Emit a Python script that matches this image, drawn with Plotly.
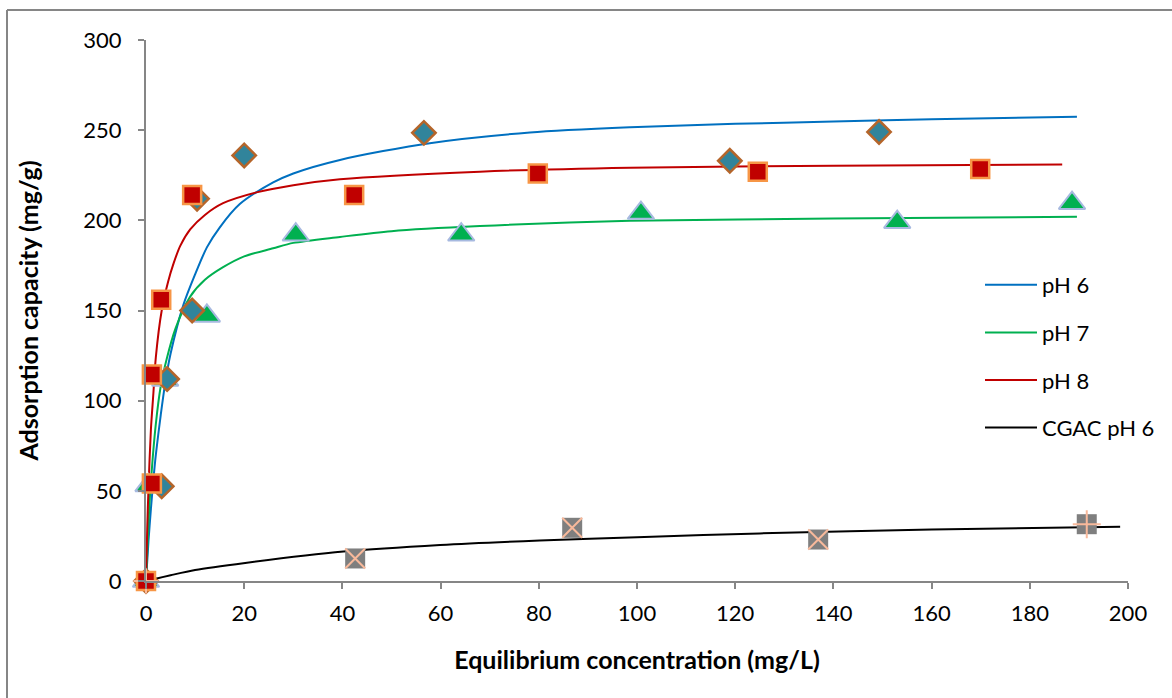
import plotly.graph_objects as go

# ---- measured data points ----
ph6_x = [0, 3.2, 4.3, 9.4, 10.4, 20, 56.6, 118.9, 149.3]
ph6_y = [0, 52.5, 112, 150, 212, 236, 248.5, 233, 249]

ph7_x = [0, 0.5, 3.9, 12.4, 30.5, 64.2, 100.8, 153, 188.6]
ph7_y = [0, 53, 111.5, 147, 192, 192, 204, 199, 209.5]

ph8_x = [0, 1.2, 1.2, 3.1, 9.4, 42.4, 79.8, 124.6, 169.9]
ph8_y = [0, 54, 114.5, 156, 214, 214, 226, 227, 228.5]

cgac_x = [42.6, 86.8, 136.9, 191.6]
cgac_y = [12.5, 29.5, 23, 31.5]
cgac_sym = ["x-thin", "x-thin", "x-thin", "cross-thin"]
origin_x = [0]
origin_y = [0]

# ---- fitted curves ----
fit6_x = [0, 0.5, 1, 1.5, 2, 3, 3.9, 5, 7.6, 10, 12.4, 15, 19.1, 25.9, 30, 39.5, 57.8, 78.2, 98.6, 120, 140, 160, 189.6]
fit6_y = [0, 22, 40, 56, 70, 92, 109.6, 126, 153, 170, 185, 196, 209, 221, 226, 233.5, 242.8, 248.7, 251.6, 253.5, 254.8, 256, 257.5]

fit7_x = [0, 0.5, 1, 2, 3, 4.2, 6, 9, 12, 15.7, 20, 25.9, 30, 39.5, 50, 68, 98.6, 140, 189.6]
fit7_y = [0, 32, 55, 87, 108, 123, 140, 157.7, 167, 174, 180, 184.5, 187.5, 190.8, 194, 196.8, 199.7, 201, 202]

fit8_x = [0, 0.25, 0.5, 1, 1.5, 2, 3.2, 4.5, 5.6, 7, 9, 12, 15.7, 22.5, 30, 39.5, 68, 98.6, 140, 186.6]
fit8_y = [0, 29, 51, 84, 104, 124, 150, 166, 176, 186, 195, 203, 209.5, 215.5, 219.5, 222.8, 227, 229.2, 230.3, 231]

fitc_x = [0, 5, 10, 20.2, 40.2, 59.9, 80.2, 100, 125, 160, 198.4]
fitc_y = [0, 3.2, 6.1, 10, 16.3, 20, 22.5, 24.3, 26.4, 28.5, 30.1]

x_ticks = [0, 20, 40, 60, 80, 100, 120, 140, 160, 180, 200]
y_ticks = [0, 50, 100, 150, 200, 250, 300]

FONT = "Lato"
fig = go.Figure()

# fit lines (legend entries)
for i, (xs, ys, col, name) in enumerate([
    (fit6_x, fit6_y, "#0070C0", "pH 6"),
    (fit7_x, fit7_y, "#00B050", "pH 7"),
    (fit8_x, fit8_y, "#C00000", "pH 8"),
    (fitc_x, fitc_y, "#000000", "CGAC pH 6"),
]):
    fig.add_trace(go.Scatter(x=xs, y=ys, mode="lines", name=name,
                             line=dict(color=col, width=2, shape="spline", smoothing=0.8),
                             legendgroup=f"g{i}", cliponaxis=False))

# markers
fig.add_trace(go.Scatter(x=ph7_x, y=ph7_y, mode="markers", showlegend=False, cliponaxis=False,
                         marker=dict(symbol="triangle-up", size=23, color="#00B050",
                                     line=dict(color="#A7B9E0", width=2))))
fig.add_trace(go.Scatter(x=ph6_x, y=ph6_y, mode="markers", showlegend=False, cliponaxis=False,
                         marker=dict(symbol="diamond", size=18, color="#31849B",
                                     line=dict(color="#B5652A", width=2.5))))
fig.add_trace(go.Scatter(x=ph8_x, y=ph8_y, mode="markers", showlegend=False, cliponaxis=False,
                         marker=dict(symbol="square", size=18, color="#C00000",
                                     line=dict(color="#F79646", width=2.5))))
fig.add_trace(go.Scatter(x=cgac_x, y=cgac_y, mode="markers", showlegend=False, cliponaxis=False,
                         marker=dict(symbol="square", size=20, color="#7F7F7F",
                                     line=dict(width=0))))
fig.add_trace(go.Scatter(x=cgac_x, y=cgac_y, mode="markers", showlegend=False, cliponaxis=False,
                         marker=dict(symbol=cgac_sym, size=20, color="#F8B99B",
                                     line=dict(color="#F8B99B", width=2))))
fig.add_trace(go.Scatter(x=origin_x, y=origin_y, mode="markers", showlegend=False, cliponaxis=False,
                         marker=dict(symbol="cross-thin", size=18, color="#F8B99B",
                                     line=dict(color="#F8B99B", width=2))))

axis_common = dict(showgrid=False, zeroline=False, showline=True, linecolor="#868686", linewidth=2,
                   ticks="outside", tickcolor="#868686", ticklen=6, tickwidth=2,
                   tickfont=dict(family=FONT, size=22, color="#000000"))

fig.update_xaxes(range=[0, 200], tickvals=x_ticks, ticktext=[str(v) for v in x_ticks],
                 title=dict(text="<b>Equilibrium concentration (mg/L)</b>",
                            font=dict(family=FONT, size=25, color="#000000"), standoff=26),
                 ticklabelstandoff=6, **axis_common)
fig.update_yaxes(range=[0, 300], tickvals=y_ticks, ticktext=[str(v) for v in y_ticks],
                 title=dict(text="<b>Adsorption capacity (mg/g)</b>",
                            font=dict(family=FONT, size=25, color="#000000"), standoff=38),
                 ticklabelstandoff=12, **axis_common)

W, H = 1172, 698
L, R, T, B = 146, 44, 40, 117
pw, ph = W - L - R, H - T - B

def px_to_paper(px, py):
    return (px - L) / pw, (H - B - py) / ph

lx0, ty0 = px_to_paper(7, 10)
rx1, _ = px_to_paper(1172, 10)
_, by1 = px_to_paper(7, 698)
fig.add_shape(type="line", xref="paper", yref="paper", x0=lx0, x1=lx0, y0=ty0, y1=by1,
              line=dict(color="#868686", width=2))
fig.add_shape(type="line", xref="paper", yref="paper", x0=lx0, x1=rx1, y0=ty0, y1=ty0,
              line=dict(color="#868686", width=2))

lgx, lgy = px_to_paper(980, 264)
fig.update_layout(
    width=W, height=H,
    margin=dict(l=L, r=R, t=T, b=B),
    paper_bgcolor="white", plot_bgcolor="white",
    font=dict(family=FONT, size=22, color="#000000"),
    legend=dict(x=lgx, y=lgy, xanchor="left", yanchor="top", bgcolor="rgba(0,0,0,0)",
                font=dict(family=FONT, size=22, color="#000000"),
                tracegroupgap=16, traceorder="grouped", itemwidth=52),
)

fig.write_html("out.html")
